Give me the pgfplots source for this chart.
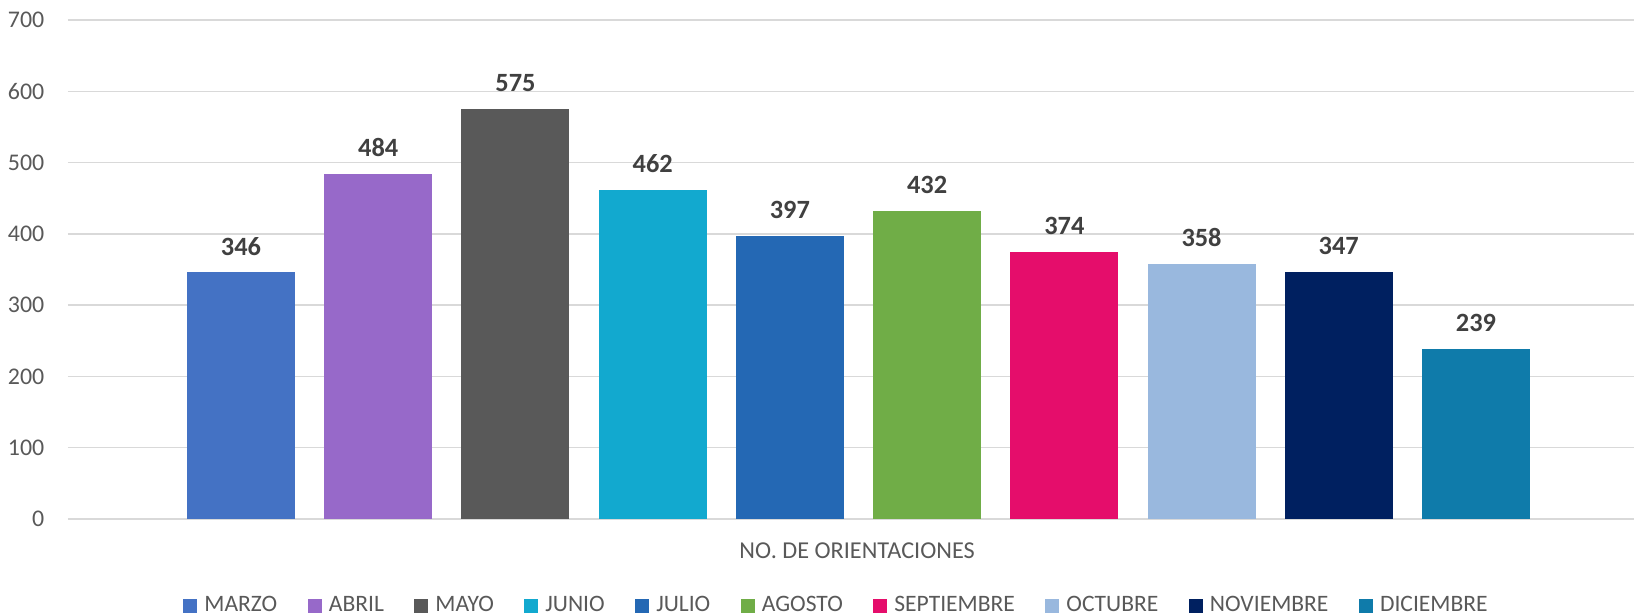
\documentclass[border=0pt]{standalone}
\usepackage{fontspec}
\setmainfont{Carlito}
\usepackage{pgfplots}
\pgfplotsset{compat=1.18}
\definecolor{cMarzo}{HTML}{4472C4}
\definecolor{cAbril}{HTML}{9769C9}
\definecolor{cMayo}{HTML}{595959}
\definecolor{cJunio}{HTML}{12A9CF}
\definecolor{cJulio}{HTML}{2468B4}
\definecolor{cAgosto}{HTML}{70AD47}
\definecolor{cSept}{HTML}{E50D6B}
\definecolor{cOct}{HTML}{99B8DE}
\definecolor{cNov}{HTML}{002060}
\definecolor{cDic}{HTML}{0F7BAA}
\definecolor{gridc}{HTML}{D9D9D9}
\definecolor{txt}{HTML}{595959}
\definecolor{lbl}{HTML}{404040}
\begin{document}
\begin{tikzpicture}
\begin{axis}[
  scale only axis,
  width=15.81cm, height=4.99cm,
  xmin=-1.261, xmax=10.261,
  ymin=0, ymax=700,
  ytick={0,100,...,700},
  xtick=\empty,
  axis line style={draw=none},
  major tick length=0pt,
  ymajorgrids,
  grid style={gridc, line width=0.015cm},
  tick label style={font=\fontsize{6.8pt}{8pt}\selectfont, text=txt},
  /pgf/number format/assume math mode=true,
  yticklabel style={anchor=east, inner sep=0pt, xshift=-0.23cm},
  clip=false,
  legend columns=10,
  legend style={draw=none, fill=none, inner sep=0pt, outer sep=0pt,
    at={(0.4877,-0.140)}, anchor=north,
    font=\fontsize{6.7pt}{8pt}\selectfont, text=txt,
    /tikz/every even column/.append style={column sep=0.235cm}},
  legend cell align=left,
  legend image code/.code={\fill[#1] (0cm,-0.07cm) rectangle (0.14cm,0.07cm);},
  nodes near coords,
  every node near coord/.append style={font=\fontsize{7.5pt}{8pt}\bfseries\selectfont, text=lbl, anchor=center, yshift=0.26cm},
]
\addplot[ybar, bar width=0.787, bar shift=0pt, fill=cMarzo, draw=none] coordinates {(0,346)};
\addlegendentry{MARZO}
\addplot[ybar, bar width=0.787, bar shift=0pt, fill=cAbril, draw=none] coordinates {(1,484)};
\addlegendentry{ABRIL}
\addplot[ybar, bar width=0.787, bar shift=0pt, fill=cMayo, draw=none] coordinates {(2,575)};
\addlegendentry{MAYO}
\addplot[ybar, bar width=0.787, bar shift=0pt, fill=cJunio, draw=none] coordinates {(3,462)};
\addlegendentry{JUNIO}
\addplot[ybar, bar width=0.787, bar shift=0pt, fill=cJulio, draw=none] coordinates {(4,397)};
\addlegendentry{JULIO}
\addplot[ybar, bar width=0.787, bar shift=0pt, fill=cAgosto, draw=none] coordinates {(5,432)};
\addlegendentry{AGOSTO}
\addplot[ybar, bar width=0.787, bar shift=0pt, fill=cSept, draw=none] coordinates {(6,374)};
\addlegendentry{SEPTIEMBRE}
\addplot[ybar, bar width=0.787, bar shift=0pt, fill=cOct, draw=none] coordinates {(7,358)};
\addlegendentry{OCTUBRE}
\addplot[ybar, bar width=0.787, bar shift=0pt, fill=cNov, draw=none] coordinates {(8,347)};
\addlegendentry{NOVIEMBRE}
\addplot[ybar, bar width=0.787, bar shift=0pt, fill=cDic, draw=none] coordinates {(9,239)};
\addlegendentry{DICIEMBRE}
\node[font=\fontsize{6.9pt}{8pt}\selectfont, text=txt, anchor=center, inner sep=0pt] at (axis cs:4.49,0) [yshift=-0.315cm] {NO. DE ORIENTACIONES};
\end{axis}
\pgfresetboundingbox
\path[use as bounding box] (-0.68cm,-0.94cm) rectangle (15.66cm,5.19cm);
\end{tikzpicture}
\end{document}
